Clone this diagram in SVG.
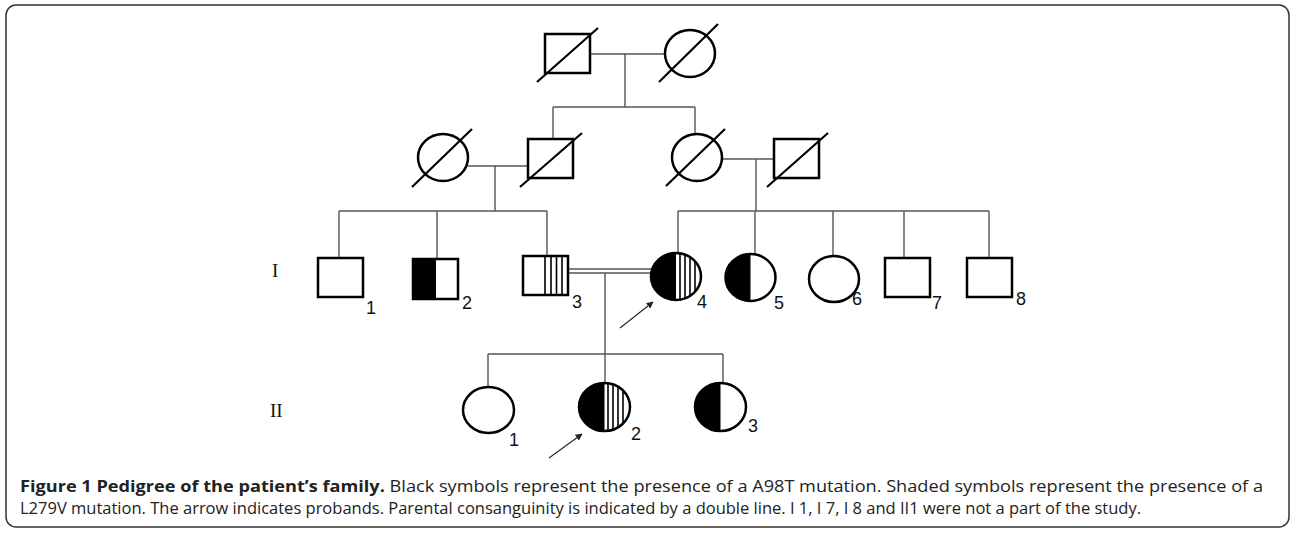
<svg xmlns="http://www.w3.org/2000/svg" width="1290" height="533" viewBox="0 0 1290 533">
<style>
.sym{fill:#fff;stroke:#000;stroke-width:2.5}
.sl{stroke:#000;stroke-width:2.2;fill:none}
.con{stroke:#555;stroke-width:1.4;fill:none}
.st{stroke:#000;stroke-width:1.6}
.num{font-family:"Liberation Sans",Arial,sans-serif;font-size:18px;fill:#111}
.gen{font-family:"Liberation Serif","Times New Roman",serif;font-size:19px;fill:#111}
.cap{font-family:"Open Sans","Noto Sans",sans-serif;font-size:16px;fill:#222}
.arr{stroke:#222;stroke-width:1.1;fill:none}
</style>
<defs>
<marker id="ah" viewBox="0 0 10 10" refX="9" refY="5" markerWidth="7" markerHeight="7" orient="auto" markerUnits="userSpaceOnUse"><path d="M0,0 L10,5 L0,10 z" fill="#222"/></marker>
<clipPath id="cI4"><ellipse cx="676" cy="276.5" rx="25" ry="23.5"/></clipPath>
<clipPath id="cI5"><ellipse cx="750.5" cy="277.5" rx="25" ry="23.5"/></clipPath>
<clipPath id="cII2"><ellipse cx="604.5" cy="407" rx="25.5" ry="24"/></clipPath>
<clipPath id="cII3"><ellipse cx="720.5" cy="407" rx="25.5" ry="24"/></clipPath>
</defs>
<rect x="6" y="5" width="1283" height="522" rx="10" fill="none" stroke="#333" stroke-width="1.5"/>

<g id="connectors">
<path class="con" d="M590,54 H665 M625,54 V107 M553,107 H695 M553,107 V139 M695,107 V134"/>
<path class="con" d="M468,166 H528 M495,166 V211 M339,211 H547 M339,211 V258 M437,211 V259 M547,211 V256"/>
<path class="con" d="M722,159 H774 M756,159 V211 M678,211 H989 M678,211 V253 M755,211 V254 M833,211 V256 M904,211 V258 M989,211 V258"/>
<path class="con" d="M568,269 H652 M568,273 H652"/>
<path class="con" d="M605,273 V354 M488,354 H723 M488,354 V387 M605,354 V383 M723,354 V383"/>
</g>

<g id="gp1"><rect class="sym" x="545" y="34" width="45" height="39"/><line class="sl" x1="537" y1="82" x2="598" y2="28"/></g>
<g id="gp2"><ellipse class="sym" cx="690" cy="53.5" rx="25" ry="23.5"/><line class="sl" x1="659" y1="82" x2="718" y2="24"/></g>
<g id="p1"><ellipse class="sym" cx="443" cy="157.5" rx="25" ry="23.5"/><line class="sl" x1="412" y1="187" x2="472" y2="129"/></g>
<g id="p2"><rect class="sym" x="528" y="139" width="45" height="39"/><line class="sl" x1="520" y1="187" x2="582" y2="133"/></g>
<g id="p3"><ellipse class="sym" cx="697" cy="157.5" rx="25" ry="23.5"/><line class="sl" x1="666" y1="186" x2="725" y2="129"/></g>
<g id="p4"><rect class="sym" x="774" y="139" width="45" height="39"/><line class="sl" x1="767" y1="187" x2="828" y2="133"/></g>

<text class="gen" x="272" y="277">I</text>
<text class="gen" x="270" y="417">II</text>

<g id="I1"><rect class="sym" x="318" y="258" width="45" height="39"/><text class="num" x="366" y="314">1</text></g>
<g id="I2"><rect x="413" y="259" width="23" height="40" fill="#000"/><rect class="sym" x="413" y="259" width="45" height="40" style="fill:none"/><text class="num" x="462" y="309">2</text></g>
<g id="I3"><path class="st" d="M545,256 V295 M551,256 V295 M556.5,256 V295 M562,256 V295"/><rect class="sym" x="523" y="256" width="45" height="39" style="fill:none"/><text class="num" x="572" y="308">3</text></g>
<g id="I4"><g clip-path="url(#cI4)"><rect x="650" y="252" width="26" height="50" fill="#000"/><path class="st" d="M680,252 V302 M685,252 V302 M690,252 V302 M695,252 V302"/></g><ellipse class="sym" cx="676" cy="276.5" rx="25" ry="23.5" style="fill:none"/><text class="num" x="697" y="308">4</text></g>
<g id="I5"><g clip-path="url(#cI5)"><rect x="724" y="253" width="26.5" height="50" fill="#000"/></g><ellipse class="sym" cx="750.5" cy="277.5" rx="25" ry="23.5" style="fill:none"/><text class="num" x="774" y="309">5</text></g>
<g id="I6"><ellipse class="sym" cx="834" cy="279" rx="25" ry="23"/><text class="num" x="852" y="305">6</text></g>
<g id="I7"><rect class="sym" x="885" y="258" width="45" height="39"/><text class="num" x="932" y="309">7</text></g>
<g id="I8"><rect class="sym" x="967" y="258" width="45" height="39"/><text class="num" x="1016" y="305">8</text></g>

<g id="II1"><ellipse class="sym" cx="488.5" cy="410" rx="25.5" ry="23"/><text class="num" x="509" y="446">1</text></g>
<g id="II2"><g clip-path="url(#cII2)"><rect x="578" y="382" width="26.5" height="50" fill="#000"/><path class="st" d="M608,382 V432 M613,382 V432 M618,382 V432 M623,382 V432"/></g><ellipse class="sym" cx="604.5" cy="407" rx="25.5" ry="24" style="fill:none"/><text class="num" x="631" y="440">2</text></g>
<g id="II3"><g clip-path="url(#cII3)"><rect x="694" y="382" width="26.5" height="50" fill="#000"/></g><ellipse class="sym" cx="720.5" cy="407" rx="25.5" ry="24" style="fill:none"/><text class="num" x="748" y="432">3</text></g>

<g id="arrows">
<line class="arr" x1="620" y1="328" x2="653" y2="302" marker-end="url(#ah)"/>
<line class="arr" x1="549" y1="458" x2="582" y2="434" marker-end="url(#ah)"/>
</g>

<text class="cap" x="20" y="492" textLength="1243" lengthAdjust="spacingAndGlyphs"><tspan font-weight="bold">Figure 1 Pedigree of the patient’s family.</tspan> Black symbols represent the presence of a A98T mutation. Shaded symbols represent the presence of a</text>
<text class="cap" x="20" y="514" textLength="1121" lengthAdjust="spacingAndGlyphs">L279V mutation. The arrow indicates probands. Parental consanguinity is indicated by a double line. I 1, I 7, I 8 and II1 were not a part of the study.</text>
</svg>
